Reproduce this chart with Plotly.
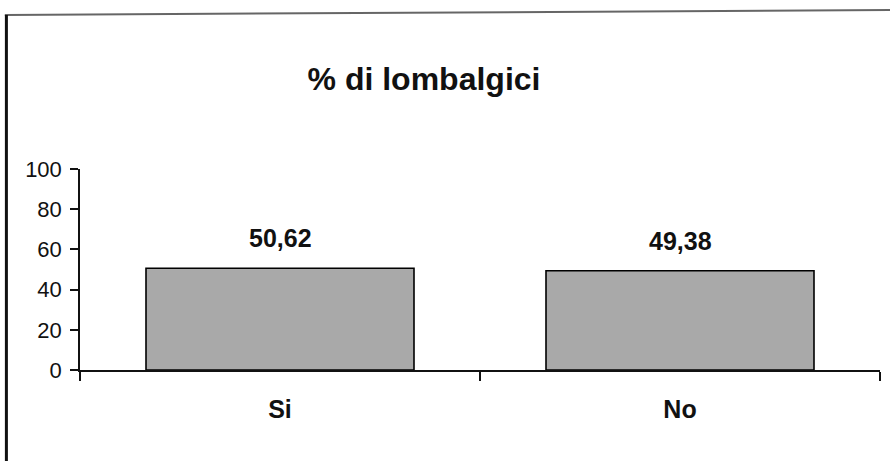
import plotly.graph_objects as go

categories = ["Si", "No"]
values = [50.62, 49.38]
y_ticks = [0, 20, 40, 60, 80, 100]
title_text = "% di lombalgici"

FONT = "Arial, 'Liberation Sans', sans-serif"

fig = go.Figure()
fig.add_trace(go.Bar(
    x=categories,
    y=values,
    width=0.67,
    marker=dict(color="#a9a9a9", line=dict(color="#000000", width=1.6)),
    hoverinfo="skip",
))

for c, v in zip(categories, values):
    fig.add_annotation(
        x=c, y=v, text=f"{v:.2f}".replace(".", ","),
        showarrow=False, yanchor="bottom", yshift=14,
        font=dict(family=FONT, size=25, color="#111111", weight="bold"),
    )

# page frame (scanned border)
fig.add_shape(type="line", xref="paper", yref="paper",
              x0=-0.094, y0=(370 - 15) / 201, x1=1.0125, y1=(370 - 10) / 201,
              line=dict(color="#666666", width=2))
fig.add_shape(type="line", xref="paper", yref="paper",
              x0=-0.092, y0=(370 - 15) / 201, x1=-0.092, y1=(370 - 470) / 201,
              line=dict(color="#111111", width=3))

fig.update_layout(
    width=890, height=461,
    margin=dict(l=80, r=10, t=169, b=91),
    paper_bgcolor="white", plot_bgcolor="white",
    showlegend=False,
    title=dict(text=title_text, x=424 / 890, xanchor="center",
               y=1 - 79 / 461, yanchor="middle",
               font=dict(family=FONT, size=32, color="#111111", weight="bold")),
    font=dict(family=FONT, color="#111111"),
    bargap=0.33,
)
fig.update_xaxes(
    type="category", showline=True, linecolor="#111111", linewidth=1.5,
    ticks="outside", tickson="boundaries", ticklen=9, tickcolor="#111111", tickwidth=1.5,
    tickfont=dict(family=FONT, size=25, color="#111111", weight="bold"),
    ticklabelstandoff=16, showgrid=False, zeroline=False,
)
fig.update_yaxes(
    range=[0, 100], tickvals=y_ticks, showline=True, linecolor="#111111", linewidth=1.5,
    ticks="outside", ticklen=8, tickcolor="#111111", tickwidth=1.5,
    tickfont=dict(family=FONT, size=22, color="#111111"),
    ticklabelstandoff=4, showgrid=False, zeroline=False,
)

fig.write_html("out.html", config={"displayModeBar": False},
               post_script="document.body.style.margin='0';")
